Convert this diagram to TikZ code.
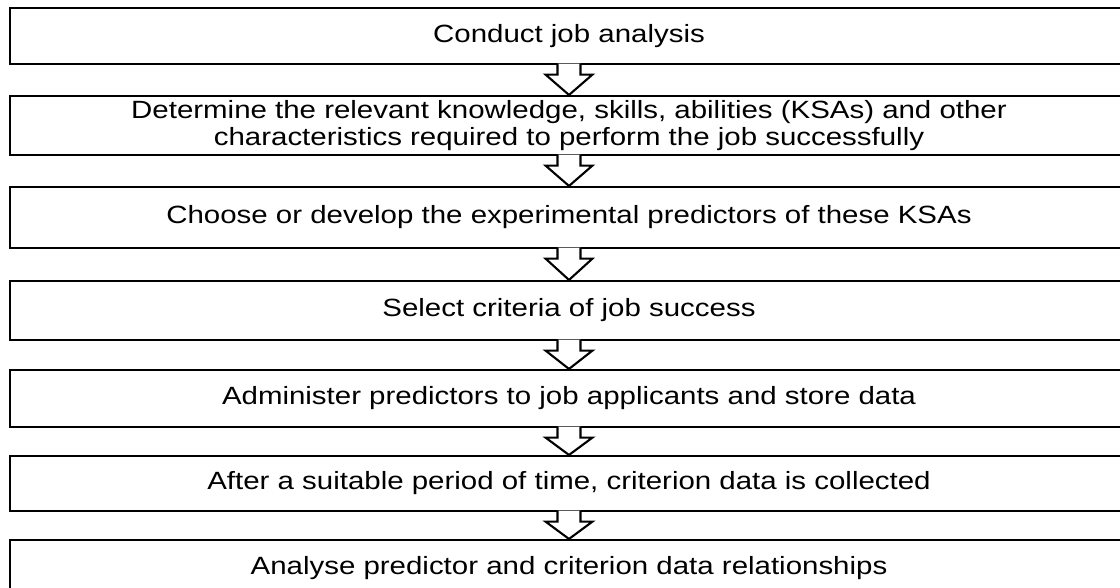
\documentclass[tikz,border=0pt]{standalone}
\usepackage{fontspec}
\setmainfont{Liberation Sans}[FakeStretch=1.18]

\begin{document}
\begin{tikzpicture}[line width=1.2pt,
    step node/.style={rectangle,draw,minimum width=22.36cm,inner sep=0pt,align=center,font=\fontsize{14.2pt}{15.4pt}\selectfont},
    block arrow/.style={draw,fill=white,line join=miter,
        to path={([shift={(-0.23,0.03)}]\tikztostart) -- ++(0,-0.22) -- ++(-0.24,0) -- (\tikztotarget)
                 -- ([shift={(0.47,-0.19)}]\tikztostart) -- ++(-0.24,0) -- ++(0,0.22)}}]
    \useasboundingbox (0,0) rectangle (22.4,-11.74);
    \node[step node, minimum height=1.12cm] (analysis) at (11.38,-0.72) {Conduct job analysis};
    \node[step node, minimum height=1.18cm] (ksa) at (11.38,-2.51) {Determine the relevant knowledge, skills, abilities (KSAs) and other\\characteristics required to perform the job successfully};
    \node[step node, minimum height=1.22cm] (predictors) at (11.38,-4.35) {Choose or develop the experimental predictors of these KSAs};
    \node[step node, minimum height=1.18cm] (criteria) at (11.38,-6.21) {Select criteria of job success};
    \node[step node, minimum height=1.14cm] (administer) at (11.38,-7.97) {Administer predictors to job applicants and store data};
    \node[step node, minimum height=1.10cm] (collect) at (11.38,-9.67) {After a suitable period of time, criterion data is collected};
    \node[step node, minimum height=1.12cm] (analyse) at (11.38,-11.36) {Analyse predictor and criterion data relationships};
    \path (analysis.south) edge[block arrow] (ksa.north);
    \path (ksa.south) edge[block arrow] (predictors.north);
    \path (predictors.south) edge[block arrow] (criteria.north);
    \path (criteria.south) edge[block arrow] (administer.north);
    \path (administer.south) edge[block arrow] (collect.north);
    \path (collect.south) edge[block arrow] (analyse.north);
\end{tikzpicture}
\end{document}
